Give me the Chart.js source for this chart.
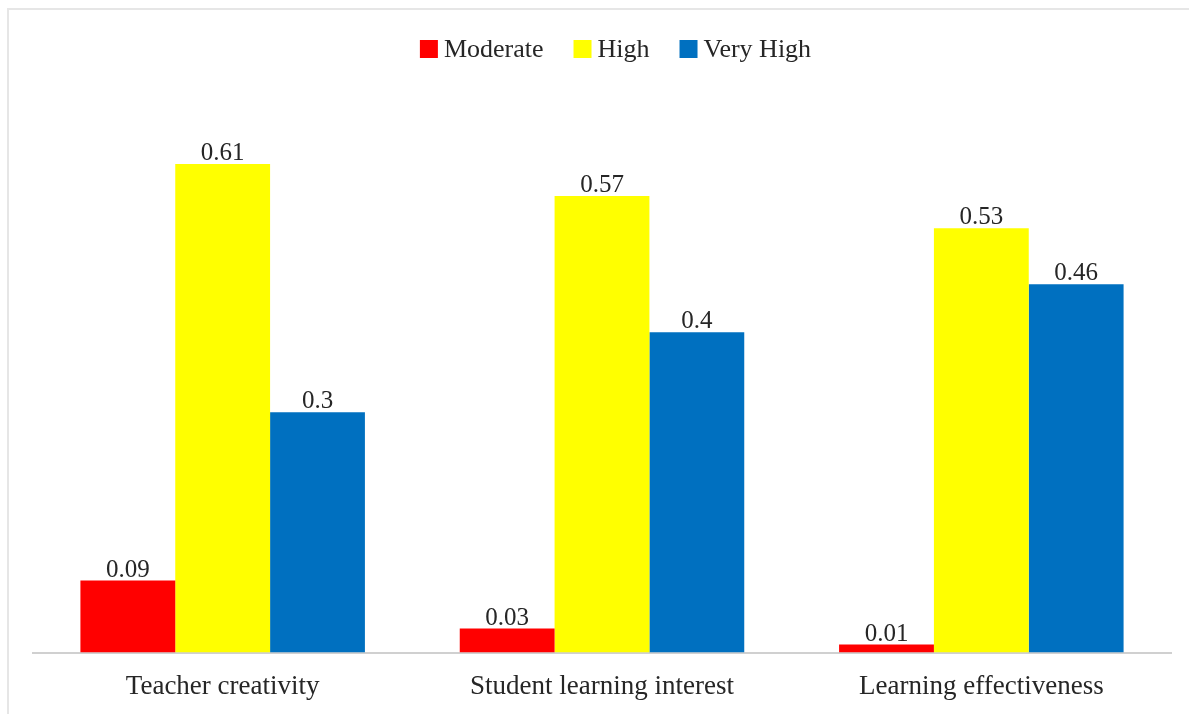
<!DOCTYPE html>
<html>
<head>
<meta charset="utf-8">
<title>Learning outcomes by rating level</title>
<script src="https://cdn.jsdelivr.net/npm/chart.js@4.4.1/dist/chart.umd.min.js"></script>
<style>
  html, body { margin: 0; padding: 0; background: #fff; overflow: hidden; }
  .frame {
    position: absolute;
    left: 7px; top: 8px; right: -10px; bottom: -10px;
    border: 2px solid #e6e6e6;
  }
  .chart-box {
    position: absolute;
    left: 0; top: 0;
    width: 1189px; height: 723px;
  }
</style>
</head>
<body>
<div class="frame"></div>
<div class="chart-box">
  <canvas id="chart"></canvas>
</div>
<script>
const categories = ["Teacher creativity", "Student learning interest", "Learning effectiveness"];
const moderate = [0.09, 0.03, 0.01];
const high = [0.61, 0.57, 0.53];
const veryHigh = [0.3, 0.4, 0.46];

const FONT = "'Liberation Serif', 'Times New Roman', serif";
const TEXT = "#262626";

// writes each bar's value just above its top edge
const valueLabels = {
  id: "valueLabels",
  afterDatasetsDraw(chart) {
    const ctx = chart.ctx;
    ctx.save();
    ctx.font = "25px " + FONT;
    ctx.fillStyle = TEXT;
    ctx.textAlign = "center";
    ctx.textBaseline = "alphabetic";
    chart.data.datasets.forEach((ds, i) => {
      chart.getDatasetMeta(i).data.forEach((bar, j) => {
        ctx.fillText(String(ds.data[j]), bar.x, bar.y - 4);
      });
    });
    ctx.restore();
  }
};

// compact legend row: square swatch, small gap, label
const topLegend = {
  id: "topLegend",
  afterDraw(chart, args, opts) {
    const ctx = chart.ctx;
    const box = 18, gap = 6, spacing = 30;
    ctx.save();
    ctx.font = opts.size + "px " + FONT;
    ctx.textBaseline = "middle";
    ctx.textAlign = "left";
    const items = chart.data.datasets.map(ds => ({
      label: ds.label,
      color: ds.backgroundColor,
      w: ctx.measureText(ds.label).width
    }));
    const total = items.reduce((s, it) => s + box + gap + it.w, 0) + spacing * (items.length - 1);
    let x = opts.centerX - total / 2;
    const y = opts.y;
    items.forEach(it => {
      ctx.fillStyle = it.color;
      ctx.fillRect(x, y - box / 2, box, box);
      ctx.fillStyle = TEXT;
      ctx.fillText(it.label, x + box + gap, y + 1);
      x += box + gap + it.w + spacing;
    });
    ctx.restore();
  }
};

new Chart(document.getElementById("chart"), {
  type: "bar",
  data: {
    labels: categories,
    datasets: [
      { label: "Moderate", data: moderate, backgroundColor: "#ff0000" },
      { label: "High", data: high, backgroundColor: "#ffff00" },
      { label: "Very High", data: veryHigh, backgroundColor: "#0070c0" }
    ]
  },
  options: {
    responsive: true,
    maintainAspectRatio: false,
    animation: false,
    datasets: {
      bar: { categoryPercentage: 0.75, barPercentage: 1.0 }
    },
    layout: { padding: { top: 92, bottom: 2, left: 33, right: 18 } },
    scales: {
      x: {
        grid: { display: false, drawTicks: false },
        border: { display: true, color: "#d0d0d0", width: 2 },
        ticks: { color: TEXT, font: { family: FONT, size: 27 }, padding: 18 }
      },
      y: {
        display: false,
        min: 0,
        max: 0.7
      }
    },
    plugins: {
      legend: { display: false },
      topLegend: { centerX: 615.5, y: 49, size: 26 },
      tooltip: { enabled: false }
    }
  },
  plugins: [valueLabels, topLegend]
});
</script>
</body>
</html>
